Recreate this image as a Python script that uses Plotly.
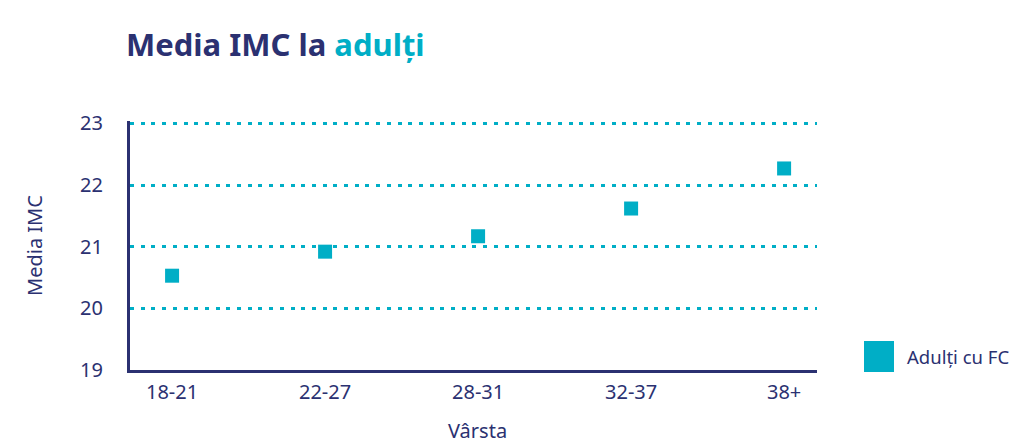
import plotly.graph_objects as go

# data
age_groups = ['18-21', '22-27', '28-31', '32-37', '38+']
mean_bmi = [20.53, 20.92, 21.17, 21.62, 22.27]
series_name = 'Adulți cu FC'
y_ticks = [19, 20, 21, 22, 23]

NAVY = '#2B3171'
TEAL = '#00AEC6'
FONT = 'Noto Sans'
W, H = 1023, 443

# plot box in figure pixels (page body adds an 8px margin)
Y_TOP = 23.04  # a hair above 23 so the top gridline is drawn
L, R, B = 122, 809, 362
T = round(B - (Y_TOP - 19) * 61.75)
PW, PH = R - L, B - T


def px(x):
    return (x - L) / PW


def py(y):
    return (B - y) / PH


trace = go.Scatter(
    x=age_groups, y=mean_bmi, mode='markers', name=series_name,
    marker=dict(symbol='square', size=14, color=TEAL, line=dict(width=0)),
    showlegend=False,
)

layout = go.Layout(
    width=W, height=H,
    paper_bgcolor='white', plot_bgcolor='white',
    margin=dict(l=L, r=W - R, t=T, b=H - B, autoexpand=False),
    font=dict(family=FONT, color=NAVY, size=20),
    title=dict(
        text='<b>Media IMC la <span style="color:%s">adulți</span></b>' % TEAL,
        x=118 / W, xanchor='left', y=1 - 37 / H, yanchor='middle',
        font=dict(size=31, color=NAVY, family=FONT),
    ),
    xaxis=dict(
        type='category', range=[-0.275, 4.215],
        showgrid=False, showline=True, linecolor=NAVY, linewidth=3,
        ticks='', ticklabelstandoff=2, automargin=False,
        tickfont=dict(size=20),
    ),
    yaxis=dict(
        range=[19, Y_TOP], tickvals=y_ticks,
        showline=True, linecolor=NAVY, linewidth=3,
        showgrid=True, gridcolor=TEAL, gridwidth=3, griddash='4px,6.7px',
        zeroline=False, ticks='', ticklabelstandoff=20, automargin=False,
        tickfont=dict(size=20),
    ),
    showlegend=False,
    annotations=[
        dict(text='Media IMC', xref='paper', yref='paper',
             x=px(26), y=py(238), xanchor='center', yanchor='middle',
             textangle=-90, showarrow=False, font=dict(size=20)),
        dict(text='Vârsta', xref='paper', yref='paper',
             x=px(469), y=py(422), xanchor='center', yanchor='middle',
             showarrow=False, font=dict(size=20)),
        # legend label
        dict(text=series_name, xref='paper', yref='paper',
             x=px(897), y=py(348), xanchor='left', yanchor='middle',
             showarrow=False, font=dict(size=18.5)),
    ],
    shapes=[
        # legend swatch
        dict(type='rect', xref='paper', yref='paper',
             x0=px(856), x1=px(886), y0=py(364), y1=py(333),
             fillcolor=TEAL, line=dict(width=0)),
    ],
)

fig = go.Figure(data=[trace], layout=layout)
fig.write_html('out.html')
